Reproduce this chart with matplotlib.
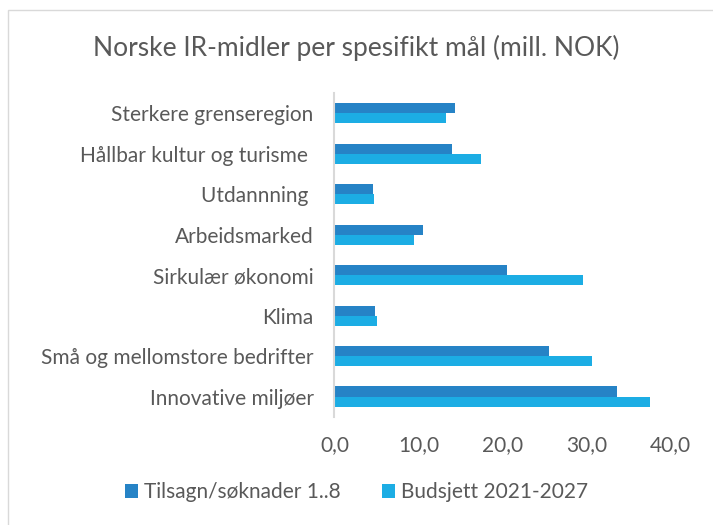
import matplotlib.pyplot as plt
import numpy as np
from matplotlib.patches import Rectangle

categories = ['Innovative miljøer', 'Små og mellomstore bedrifter', 'Klima',
              'Sirkulær økonomi', 'Arbeidsmarked', 'Utdannning ',
              'Hållbar kultur og turisme ', 'Sterkere grenseregion']
tilsagn = [33.7, 25.6, 4.8, 20.5, 10.6, 4.6, 14.0, 14.4]
budsjett = [37.6, 30.7, 5.1, 29.6, 9.5, 4.7, 17.5, 13.3]
series_names = ['Tilsagn/søknader 1..8', 'Budsjett 2021-2027']
xticks = [0, 10, 20, 30, 40]

dark = '#2683C6'
light = '#1CADE4'
grey = '#595959'

plt.rcParams['font.family'] = ['Lato', 'DejaVu Sans']

fig = plt.figure(figsize=(7.13, 5.25), dpi=100)
fig.patches.append(Rectangle((8 / 713, -0.01), 1.0, 1 - 10 / 525 + 0.01,
                             transform=fig.transFigure, fill=False,
                             edgecolor='#D9D9D9', linewidth=1))
ax = fig.add_axes([0.469, 0.206, 0.471, 0.617])

y = np.arange(len(categories))
h = 0.25
ax.barh(y + h / 2, tilsagn, height=h, color=dark, label=series_names[0])
ax.barh(y - h / 2, budsjett, height=h, color=light, label=series_names[1])

ax.set_xlim(0, 40)
ax.set_ylim(-0.5, len(categories) - 0.5)
ax.set_xticks(xticks)
ax.set_xticklabels([('%.1f' % v).replace('.', ',') for v in xticks],
                   fontsize=15, color=grey)
ax.set_yticks(y)
ax.set_yticklabels(categories, fontsize=15, color=grey)
ax.tick_params(axis='y', length=0, pad=15)
ax.tick_params(axis='x', length=0, pad=13)

for s in ['top', 'right', 'bottom']:
    ax.spines[s].set_visible(False)
ax.spines['left'].set_color('#D9D9D9')
ax.spines['left'].set_linewidth(1.5)

fig.text(0.5, 0.908, 'Norske IR-midler per spesifikt mål (mill. NOK)',
         ha='center', va='center', fontsize=19, color=grey)

fig.legend(loc='center', bbox_to_anchor=(0.5, 0.062), ncol=2, frameon=False,
           fontsize=15, labelcolor=grey, handlelength=0.6, handleheight=0.6,
           handletextpad=0.3, columnspacing=2.0)

fig.savefig('out.png', dpi=100)
